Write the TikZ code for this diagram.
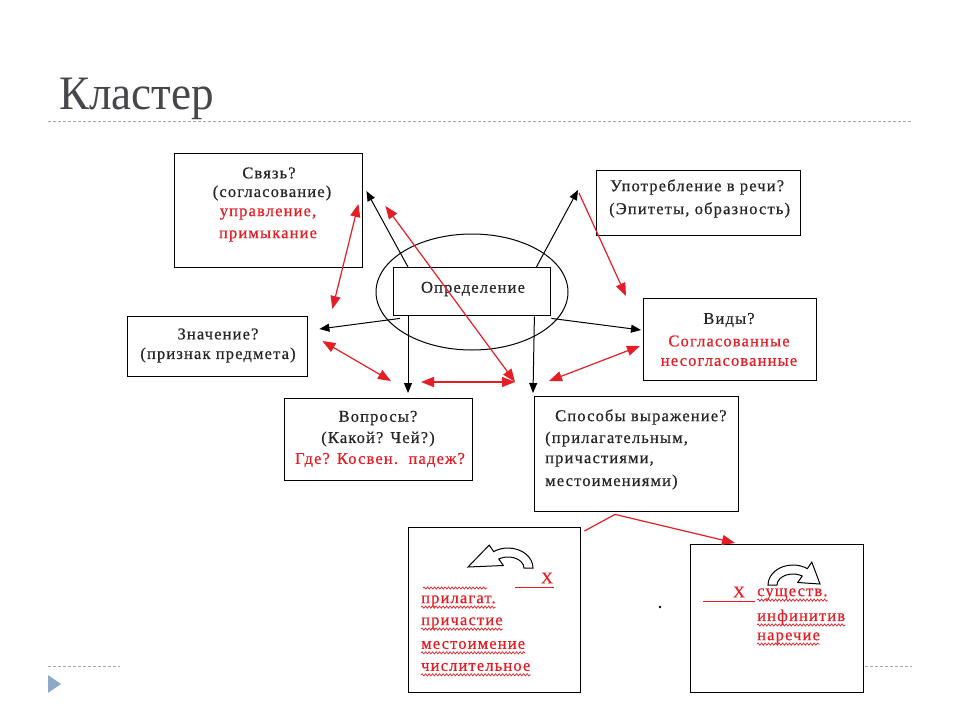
\documentclass[tikz,border=0pt]{standalone}
\usepackage{fontspec}
\setmainfont{Liberation Serif}
\newfontfamily\dgfont{Liberation Serif}[LetterSpace=7,FakeBold=0.6]
\usetikzlibrary{arrows.meta,decorations.pathmorphing,calc,shapes.geometric}
\definecolor{myred}{RGB}{228,30,38}
\definecolor{titlegray}{RGB}{70,70,75}
\definecolor{rulegray}{RGB}{165,165,165}
\definecolor{bulletblue}{RGB}{143,170,200}
\begin{document}
\begin{tikzpicture}[x=1pt,y=-1pt,
  box/.style={draw=black, line width=1.4pt, fill=white, anchor=north west, inner sep=0pt},
  txt/.style={font=\dgfont\fontsize{16.5}{18}\selectfont, inner sep=0pt, text=black!85},
  rtxt/.style={txt, text=myred},
  blk/.style={draw=black, line width=1pt, -{Triangle[length=10pt,width=8pt]}},
  redl/.style={draw=myred, line width=1.2pt},
  redarr/.style={redl, {Triangle[length=13pt,width=10pt]}-{Triangle[length=13pt,width=10pt]}},
  redone/.style={redl, -{Triangle[length=13pt,width=10pt]}},
  wavy/.style={draw=myred, line width=0.7pt, decorate, decoration={snake, amplitude=1.1pt, segment length=3.5pt}},
  curvy/.style={draw=black, line width=1pt, fill=white},
  rule/.style={draw=rulegray, line width=0.8pt, dash pattern=on 3pt off 2pt},
]
\useasboundingbox (0,0) rectangle (960,720);
\fill[white] (0,0) rectangle (960,720);

% title
\node[anchor=base west, inner sep=0pt, text=titlegray, font=\fontsize{48}{48}\selectfont] (title) at (59,109) {\scalebox{0.94}[1]{Кластер}};
\coordinate (r1a) at (48,121); \coordinate (r1b) at (912,121);
\draw[rule] (r1a) -- (r1b);
\coordinate (r2a) at (48,666); \coordinate (r2b) at (120,666);
\coordinate (r3a) at (865,666); \coordinate (r3b) at (912,666);
\draw[rule] (r2a) -- (r2b);
\draw[rule] (r3a) -- (r3b);
\fill[bulletblue] (48,675) -- (48,693) -- (61,684) -- cycle;

% ellipse and central box
\node[draw=black, line width=1pt, ellipse, minimum width=192pt, minimum height=116pt, inner sep=0pt] (ell) at (472,292) {};
\node[box, minimum width=157pt, minimum height=48pt] (op) at (393,267) {};
\node[txt] (opt) at (473,289) {Определение};

% boxes
\node[box, minimum width=188pt, minimum height=114pt] (sv) at (174,153) {};
\node[box, minimum width=204pt, minimum height=65pt] (up) at (596,170) {};
\node[box, minimum width=180pt, minimum height=60pt] (zn) at (127,316) {};
\node[box, minimum width=173pt, minimum height=82pt] (vi) at (643,298) {};
\node[box, minimum width=188pt, minimum height=82pt] (vo) at (284,398) {};
\node[box, minimum width=204pt, minimum height=115pt] (sp) at (534,396) {};
\node[box, minimum width=172pt, minimum height=165pt] (bl) at (408,527) {};
\node[box, minimum width=173pt, minimum height=148pt] (br) at (690,544) {};

% texts
\node[txt] (sv1) at (269,173) {Связь?};
\node[txt] (sv2) at (272,193) {(согласование)};
\node[rtxt] (sv3) at (268,214) {управление,};
\node[rtxt] (sv4) at (268,236) {примыкание};

\node[txt, anchor=west] (up1) at (610,187) {Употребление в речи?};
\node[txt, anchor=west] (up2) at (609,210) {(Эпитеты, образность)};

\node[txt] (zn1) at (218,334) {Значение?};
\node[txt] (zn2) at (218,355) {(признак предмета)};

\node[txt] (vi1) at (729,320) {Виды?};
\node[rtxt] (vi2) at (729,341) {Согласованные};
\node[rtxt] (vi3) at (729,362) {несогласованные};

\node[txt] (vo1) at (378,418) {Вопросы?};
\node[txt] (vo2) at (378,439) {(Какой? Чей?)};
\node[rtxt] (vo3) at (380,460) {Где? Косвен.\ \ падеж?};

\node[txt, anchor=west] (sp1) at (555,417) {Способы выражение?};
\node[txt, anchor=west] (sp2) at (545,439) {(прилагательным,};
\node[txt, anchor=west] (sp3) at (545,461) {причастиями,};
\node[txt, anchor=west] (sp4) at (545,482) {местоимениями)};

% bottom-left box content
\draw[curvy] (533,568) arc[start angle=0, end angle=-125, x radius=25, y radius=20] -- (489.2,545.1) -- (468,567) -- (503.3,565.5) -- (498.8,559.0) arc[start angle=-125, end angle=0, x radius=16, y radius=11] -- cycle;
\coordinate (ul1a) at (515,587); \coordinate (ul1b) at (554,587);
\draw[myred, line width=0.9pt] (ul1a) -- (ul1b);
\node[rtxt] (x1) at (547,578) {X};
\coordinate (wv0a) at (423,588); \coordinate (wv0b) at (487,588);
\draw[wavy] (wv0a) -- (wv0b);
\node[rtxt, anchor=west] (bl1) at (421,601) {прилагат.};
\node[rtxt, anchor=west] (bl2) at (421,623) {причастие};
\node[rtxt, anchor=west] (bl3) at (421,645) {местоимение};
\node[rtxt, anchor=west] (bl4) at (421,667) {числительное};
\foreach \n in {bl1,bl2,bl3,bl4}
  \draw[wavy] ($(\n.base west)+(0,4)$) -- ($(\n.base east)+(0,4)$);

% bottom-right box content
\draw[curvy] (768,585) arc[start angle=-180, end angle=-55, x radius=25, y radius=20] -- (811.8,562.1) -- (820,584) -- (797.7,582.5) -- (802.2,576.0) arc[start angle=-55, end angle=-180, x radius=16, y radius=11] -- cycle;
\coordinate (ul2a) at (703,601); \coordinate (ul2b) at (755,601);
\draw[myred, line width=0.9pt] (ul2a) -- (ul2b);
\node[rtxt] (x2) at (739,592) {X};
\node[rtxt, anchor=west] (br1) at (757,594) {существ.};
\node[rtxt, anchor=west] (br2) at (757,617) {инфинитив};
\node[rtxt, anchor=west] (br3) at (757,638) {наречие};
\foreach \n in {br1,br2,br3}
  \draw[wavy] ($(\n.base west)+(0,4)$) -- ($(\n.base east)+(0,4)$);

\fill[black] (660,607) circle[radius=1.3];

% black connectors
\coordinate (upTip) at ($(up.north west)+(-18,20)$);
\draw[blk] ($(op.north west)+(15,0)$) -- ($(sv.north east)+(3,38)$);
\draw[blk] ($(op.north east)+(-15,0)$) -- (upTip);
\draw[blk] ($(op.south west)+(7,2)$) -- ($(zn.north east)+(11,13)$);
\draw[blk] ($(op.south east)+(0,2)$) -- ($(vi.north west)+(-2,32)$);
\draw[blk] ($(op.south west)+(15,0)$) -- ($(vo.north west)+(124,-5)$);
\draw[blk] ($(op.south east)+(-17,0)$) -- ($(sp.north west)+(-1,-3)$);

% red connectors
\coordinate (hub) at (515,382);
\coordinate (spb) at ($(sp.south west)+(81,2)$);
\draw[redarr] ($(sv.north east)+(-5,51)$) -- ($(zn.north east)+(24,-7)$);
\draw[redarr] ($(sv.north east)+(22,53)$) -- (hub);
\draw[redarr] ($(zn.north east)+(14,25)$) -- ($(vo.north west)+(107,-17)$);
\draw[redarr] ($(vo.north west)+(137,-16)$) -- (hub);
\draw[redone] ($(upTip)+(1,3)$) -- ($(vi.north west)+(-17,-2)$);
\draw[redarr] ($(sp.north west)+(15,-15)$) -- ($(vi.north west)+(-3,48)$);
\draw[redl] (spb) -- ($(bl.north east)+(3,4)$);
\draw[redone] (spb) -- ($(br.north west)+(45,-1)$);
\end{tikzpicture}
\end{document}
